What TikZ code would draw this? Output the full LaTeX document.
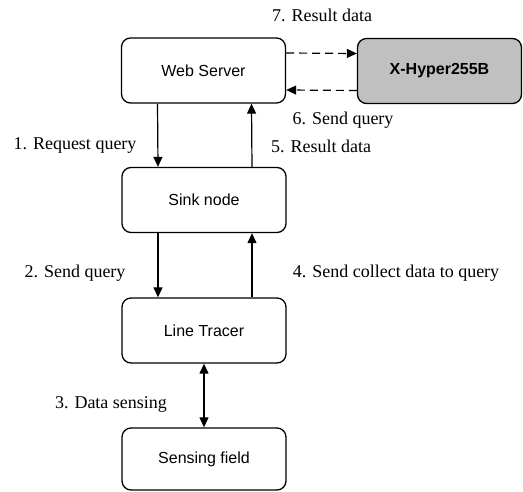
\documentclass[tikz,border=0pt]{standalone}
\usepackage{fontspec}
\setmainfont{Liberation Serif}
\setsansfont{Liberation Sans}
\usepackage{xcolor}
\usetikzlibrary{arrows.meta, positioning, calc}
\definecolor{boxgray}{HTML}{C0C0C0}

\begin{document}
\begin{tikzpicture}[x=1pt, y=-1pt]
\tikzstyle{unit} = [rectangle, rounded corners=9pt, draw=black, line width=1.3pt, minimum width=164pt, minimum height=65pt, font=\sffamily\fontsize{16}{18}\selectfont]
\tikzstyle{board} = [unit, fill=boxgray, font=\sffamily\bfseries\fontsize{16}{18}\selectfont]
\tikzstyle{step label} = [font=\fontsize{18}{20}\selectfont]
\tikzstyle{arrow} = [-{Triangle[length=10pt,width=9pt]}, line width=1.2pt]
\tikzstyle{both arrow} = [{Triangle[length=10pt,width=9pt]}-{Triangle[length=10pt,width=9pt]}, line width=1.2pt]
\tikzstyle{dasharrow} = [arrow, dash pattern=on 8pt off 5pt]

\useasboundingbox (0,0) rectangle (523,492);

% Boxes
\node[unit] (web) at (203.5,70.5) {Web Server};
\node[board] (xhyper) at (439.5,71) {X-Hyper255B};
\node[unit] (sink) at (204,200) {Sink node};
\node[unit] (tracer) at (204,330.5) {Line Tracer};
\node[unit, minimum height=62pt] (field) at (204,459) {Sensing field};

% Labels
\node[step label] (l7) at (322,15) {7. Result data};
\node[step label] (l6) at (343,120) {6. Send query};
\node[step label] (l1) at (75,146) {1. Request query};
\node[step label] (l5) at (321,146) {5. Result data};
\node[step label] (l2) at (75,273) {2. Send query};
\node[step label] (l4) at (396,273) {4. Send collect data to query};
\node[step label] (l3) at (111,404) {3. Data sensing};

% Connections
\draw[dasharrow] ([yshift=17.5pt]web.east) -- ([yshift=17.5pt]xhyper.west);
\draw[dasharrow] ([yshift=-19.5pt]xhyper.west) -- ([yshift=-19.5pt]web.east);
\draw[arrow] ([xshift=-46pt]web.south) -- ([xshift=-46pt]sink.north);
\draw[arrow] ([xshift=48pt]sink.north) -- ([xshift=48pt]web.south);
\draw[arrow] ([xshift=-46pt]sink.south) -- ([xshift=-46pt]tracer.north);
\draw[arrow] ([xshift=48pt]tracer.north) -- ([xshift=48pt]sink.south);
\draw[both arrow] (tracer) -- (field);
\end{tikzpicture}
\end{document}
